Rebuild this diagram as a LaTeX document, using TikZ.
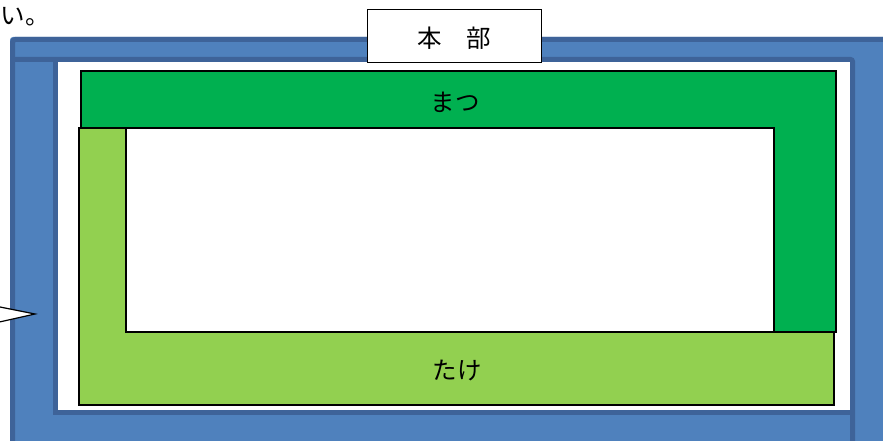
\documentclass[tikz,border=0pt]{standalone}
\usepackage{fontspec}
\newfontfamily\jp{Noto Sans CJK JP}
\definecolor{framefill}{HTML}{4F81BD}
\definecolor{framedark}{HTML}{3E6399}
\definecolor{darkgreen}{HTML}{00B050}
\definecolor{lightgreen}{HTML}{92D050}
\tikzset{
  jptext/.style={font=\jp\fontsize{24.5}{28}\selectfont, inner sep=0pt},
  darkedge/.style={draw=framedark, line width=5pt},
  greenshape/.style={draw=black, line width=1.5pt, line join=miter},
}
\begin{document}
\begin{tikzpicture}[x=1pt,y=-1pt]
\useasboundingbox (0,0) rectangle (883,441);
\clip (0,0) rectangle (883,441);
% blue frame
\fill[framefill, rounded corners=3pt] (10,37) rectangle (900,470);
\fill[white] (58,62) rectangle (850,410);
\draw[darkedge, rounded corners=3pt] (12.5,470) -- (12.5,39.5) -- (900,39.5);
\draw[darkedge, rounded corners=2pt] (15,59.5) -- (852.5,59.5) -- (852.5,470);
\draw[darkedge] (55.5,62) -- (55.5,412.5) -- (850,412.5);
% pointer of a callout
\filldraw[fill=white, draw=black, line width=1.2pt] (-5,306) -- (35,314) -- (-5,323);
% top text
\node[jptext, anchor=west] (topnote) at (0.5,17) {い。};
% dark green (まつ)
\fill[darkgreen] (81,71) -- (836,71) -- (836,332) -- (774,332) -- (774,128) -- (81,128) -- cycle;
\draw[greenshape] (81,71) -- (836,71) -- (836,332) -- (774,332) -- (774,128) -- (81,128) -- cycle;
% light green (たけ)
\fill[lightgreen] (79,128) -- (126,128) -- (126,332) -- (834,332) -- (834,405) -- (79,405) -- cycle;
\draw[greenshape] (79,128) -- (126,128) -- (126,332) -- (834,332) -- (834,405) -- (79,405) -- cycle;
% inner white edge
\draw[greenshape] (126,128) -- (774,128) -- (774,332);
\node[jptext] (matsu) at (455,102) {まつ};
\node[jptext] (take) at (457,370) {たけ};
% headquarters box
\node[draw=black, line width=1.8pt, fill=white, minimum width=174pt, minimum height=53pt, inner sep=0pt] (honbu) at (454.5,36) {};
\node[jptext] (honbutext) at (454.5,38.5) {本\hspace{1em}部};
\end{tikzpicture}
\end{document}
